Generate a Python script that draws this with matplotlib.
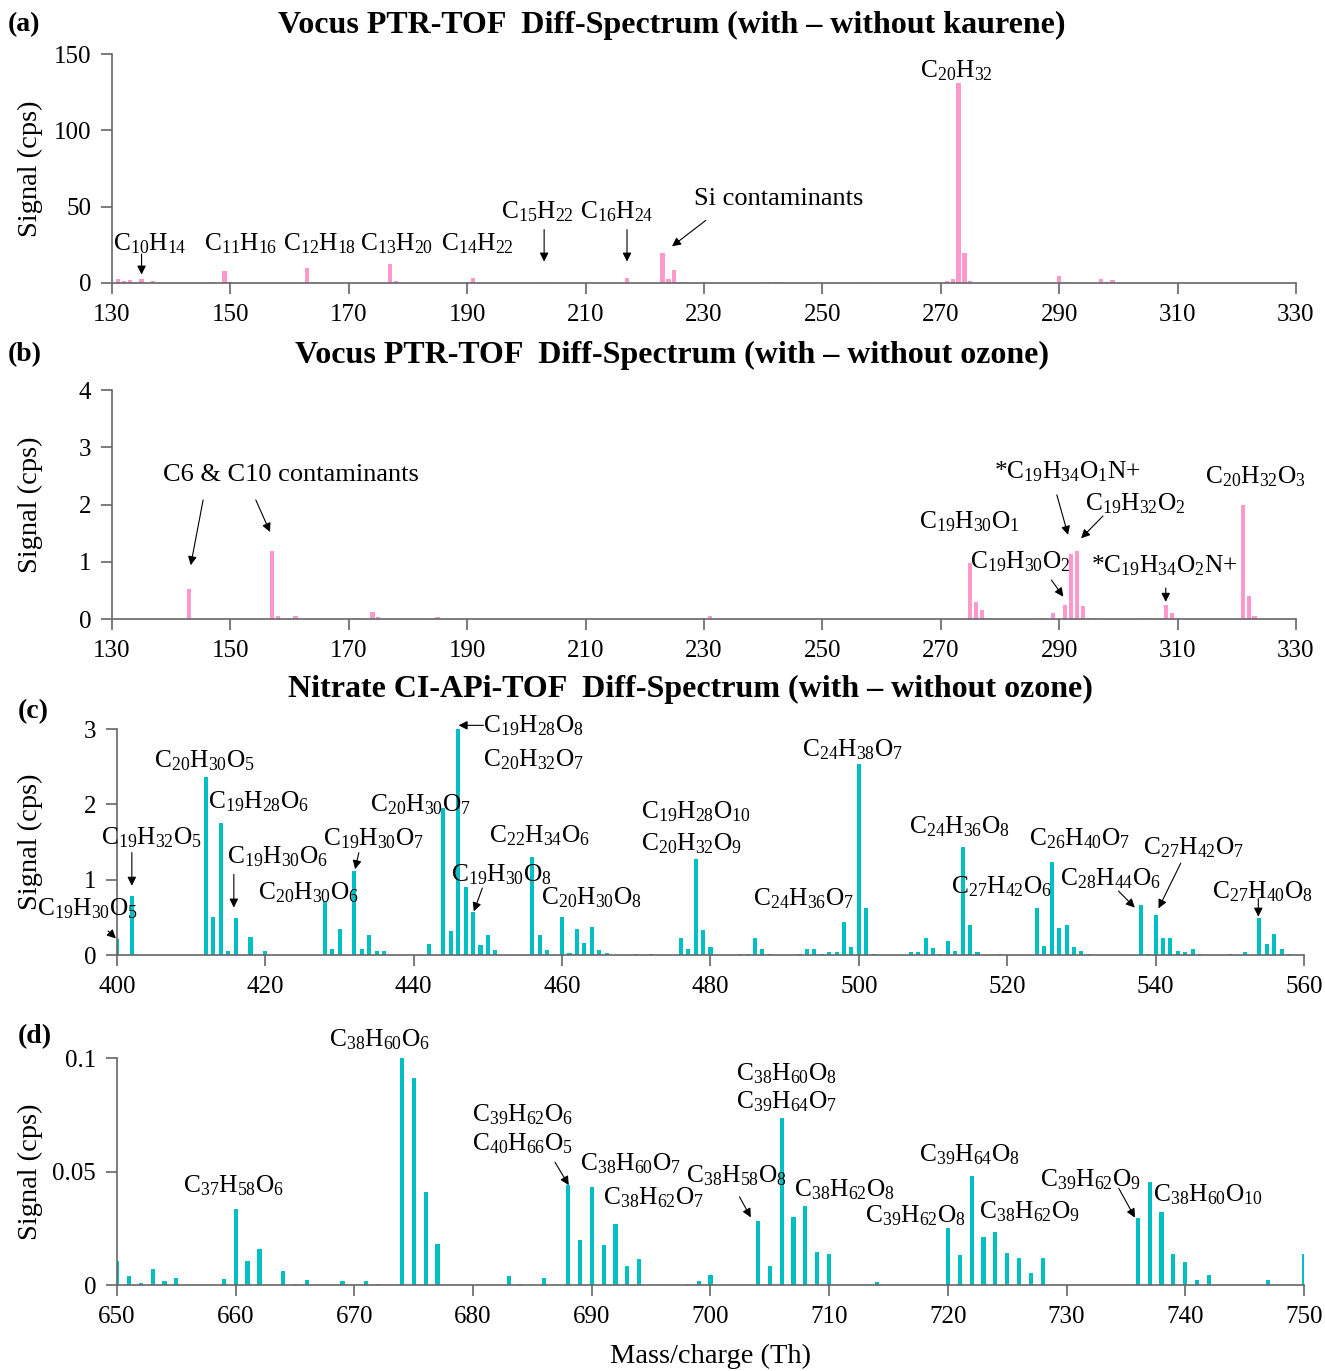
import matplotlib
matplotlib.use('Agg')
import matplotlib.pyplot as plt

plt.rcParams['font.family'] = ['Liberation Serif', 'DejaVu Serif']
plt.rcParams['mathtext.fontset'] = 'custom'
plt.rcParams['mathtext.rm'] = 'Liberation Serif'
plt.rcParams['mathtext.default'] = 'regular'

PINK = '#ff99cc'
CYAN = '#00c0c4'
AXC = '#666666'

# ---- data: unit-mass diff spectra ----
# (a) Vocus, with - without kaurene
mz_a = [131, 132, 133, 134, 135, 137, 145, 146, 147, 149, 150, 162, 163, 164,
        176, 177, 178, 190, 191, 203, 217, 223, 224, 225, 226, 227,
        241, 242, 243, 257, 271, 272, 273, 274, 275, 290, 291, 297, 298, 299]
sig_a = [2.6, 1.3, 2.2, 0.9, 2.8, 1.5, 0.3, 0.3, 0.4, 7.6, 0.4, 0.3, 9.8, 0.7,
         0.3, 12.7, 1.1, 0.4, 3.1, 0.9, 3.1, 19.4, 2.6, 8.5, 0.9, 0.7,
         0.8, 0.8, 0.8, 0.8, 1.3, 2.9, 131, 19.4, 1.1, 4.8, 0.7, 2.9, 0.7, 1.8]

# (b) Vocus, with - without ozone
mz_b = [143, 157, 158, 161, 171, 174, 175, 185, 231, 275, 276, 277, 278, 287,
        289, 291, 292, 293, 294, 295, 296, 304, 305, 307, 308, 309, 310,
        321, 322, 323]
sig_b = [0.52, 1.19, 0.06, 0.05, 0.01, 0.13, 0.03, 0.03, 0.05, 0.97, 0.29, 0.15,
         0.02, 0.02, 0.11, 0.24, 1.13, 1.19, 0.22, 0.02, 0.01, 0.02, 0.02, 0.02,
         0.24, 0.10, 0.02, 2.0, 0.41, 0.05]

# (c) Nitrate CI-APi-TOF, 400-560
mz_c = [400, 402, 412, 413, 414, 415, 416, 418, 420, 428, 429, 430, 432, 433,
        434, 435, 436, 442, 444, 445, 446, 447, 448, 449, 450, 451, 456, 457,
        458, 460, 461, 462, 463, 464, 465, 466, 470, 472, 476, 477, 478, 479,
        480, 484, 485, 486, 487, 488, 492, 493, 494, 495, 496, 497, 498, 499,
        500, 501, 502, 507, 508, 509, 510, 511, 512, 513, 514, 515, 516, 519,
        524, 525, 526, 527, 528, 529, 530, 531, 538, 539, 540, 541, 542, 543,
        544, 545, 546, 550, 552, 554, 555, 556, 557, 558]
sig_c = [0.21, 0.78, 2.36, 0.50, 1.75, 0.05, 0.49, 0.24, 0.05, 0.72, 0.08, 0.35,
         1.11, 0.08, 0.27, 0.05, 0.05, 0.14, 1.95, 0.32, 3.0, 0.91, 0.57, 0.13,
         0.27, 0.07, 1.30, 0.27, 0.07, 0.50, 0.03, 0.35, 0.16, 0.37, 0.07, 0.03,
         0.01, 0.02, 0.23, 0.08, 1.27, 0.33, 0.11, 0.02, 0.01, 0.22, 0.08, 0.01,
         0.01, 0.08, 0.08, 0.02, 0.04, 0.04, 0.44, 0.11, 2.54, 0.63, 0.02, 0.04,
         0.04, 0.23, 0.10, 0.01, 0.19, 0.06, 1.44, 0.40, 0.04, 0.01, 0.63, 0.12,
         1.24, 0.36, 0.40, 0.11, 0.06, 0.02, 0.67, 0.01, 0.53, 0.22, 0.22, 0.05,
         0.04, 0.08, 0.01, 0.01, 0.04, 0.49, 0.15, 0.28, 0.08, 0.01]

# (d) Nitrate CI-APi-TOF, 650-750
mz_d = [650, 651, 652, 653, 654, 655, 659, 660, 661, 662, 664, 665, 666, 669,
        671, 672, 674, 675, 676, 677, 683, 684, 686, 688, 689, 690, 691, 692,
        693, 694, 698, 699, 700, 704, 705, 706, 707, 708, 709, 710, 714, 720,
        721, 722, 723, 724, 725, 726, 727, 728, 736, 737, 738, 739, 740, 741,
        742, 747, 750]
sig_d = [0.0107, 0.0041, 0.0007, 0.0071, 0.0019, 0.0031, 0.0025, 0.0333, 0.0107,
         0.0159, 0.0061, 0.0004, 0.0022, 0.0018, 0.0018, 0.0003, 0.100, 0.0913,
         0.0409, 0.0179, 0.0041, 0.0006, 0.0030, 0.0440, 0.0200, 0.0433, 0.0175,
         0.0270, 0.0083, 0.0116, 0.0003, 0.0017, 0.0044, 0.0283, 0.0085, 0.0734,
         0.0298, 0.0347, 0.0144, 0.0135, 0.0013, 0.0253, 0.0132, 0.0479, 0.0211,
         0.0232, 0.0140, 0.0120, 0.0053, 0.0120, 0.0297, 0.0452, 0.0323, 0.0135,
         0.0100, 0.0022, 0.0044, 0.0021, 0.0138]

# ---- peak labels: (text, x, y) and arrows: (tail, head) ----
labels_a = [(r'C$_{10}$H$_{14}$', 136.4, 26), (r'C$_{11}$H$_{16}$', 151.7, 26),
            (r'C$_{12}$H$_{18}$', 165.0, 26), (r'C$_{13}$H$_{20}$', 178.0, 26),
            (r'C$_{14}$H$_{22}$', 191.8, 26), (r'C$_{15}$H$_{22}$', 201.8, 47),
            (r'C$_{16}$H$_{24}$', 215.3, 47), ('Si contaminants', 242.7, 55),
            (r'C$_{20}$H$_{32}$', 272.6, 139)]
arrows_a = [((135, 19), (135, 5.5)), ((203, 35), (203, 14)), ((217, 35), (217, 14)),
            ((230.3, 41), (224.6, 24))]

labels_b = [('C6 & C10 contaminants', 160.3, 2.52),
            (r'*C$_{19}$H$_{34}$O$_1$N+', 291.3, 2.57),
            (r'C$_{19}$H$_{32}$O$_2$', 302.8, 2.02),
            (r'C$_{19}$H$_{30}$O$_1$', 274.8, 1.70),
            (r'C$_{19}$H$_{30}$O$_2$', 283.5, 1.00),
            (r'*C$_{19}$H$_{34}$O$_2$N+', 307.7, 0.94),
            (r'C$_{20}$H$_{32}$O$_3$', 323.1, 2.49)]
arrows_b = [((145.4, 2.08), (143.3, 0.94)), ((154.3, 2.08), (156.7, 1.52)),
            ((289.6, 2.17), (291.5, 1.47)), ((297.4, 1.80), (293.7, 1.41)),
            ((288.7, 0.68), (290.7, 0.39)), ((308, 0.54), (308, 0.30))]

labels_c = [(r'C$_{19}$H$_{30}$O$_5$', 396.0, 0.61), (r'C$_{19}$H$_{32}$O$_5$', 404.6, 1.56),
            (r'C$_{20}$H$_{30}$O$_5$', 411.8, 2.58), (r'C$_{19}$H$_{28}$O$_6$', 419.1, 2.04),
            (r'C$_{19}$H$_{30}$O$_6$', 421.6, 1.31), (r'C$_{20}$H$_{30}$O$_6$', 425.8, 0.83),
            (r'C$_{19}$H$_{30}$O$_7$', 434.6, 1.54), (r'C$_{20}$H$_{30}$O$_7$', 441.0, 2.00),
            (r'C$_{19}$H$_{28}$O$_8$', 456.2, 3.04), (r'C$_{20}$H$_{32}$O$_7$', 456.2, 2.60),
            (r'C$_{22}$H$_{34}$O$_6$', 457.0, 1.58), (r'C$_{19}$H$_{30}$O$_8$', 451.9, 1.07),
            (r'C$_{20}$H$_{30}$O$_8$', 464.0, 0.76), (r'C$_{19}$H$_{28}$O$_{10}$', 478.0, 1.90),
            (r'C$_{20}$H$_{32}$O$_9$', 477.5, 1.48), (r'C$_{24}$H$_{38}$O$_7$', 499.2, 2.72),
            (r'C$_{24}$H$_{36}$O$_7$', 492.5, 0.75), (r'C$_{24}$H$_{36}$O$_8$', 513.6, 1.70),
            (r'C$_{27}$H$_{42}$O$_6$', 519.2, 0.91), (r'C$_{26}$H$_{40}$O$_7$', 529.8, 1.55),
            (r'C$_{28}$H$_{44}$O$_6$', 533.9, 1.02), (r'C$_{27}$H$_{42}$O$_7$', 545.2, 1.42),
            (r'C$_{27}$H$_{40}$O$_8$', 554.4, 0.84)]
arrows_c = [((398.8, 0.32), (399.85, 0.22)), ((402, 1.36), (402, 0.92)),
            ((415.75, 1.07), (415.75, 0.63)), ((432.6, 1.36), (432.1, 1.14)),
            ((449.4, 3.05), (446.05, 3.05)), ((449.25, 0.89), (448.1, 0.58)),
            ((535, 0.85), (537.2, 0.63)), ((543.4, 1.22), (540.4, 0.62)),
            ((553.85, 0.75), (553.85, 0.51))]

labels_d = [(r'C$_{37}$H$_{58}$O$_6$', 659.8, 0.0437), (r'C$_{38}$H$_{60}$O$_6$', 672.1, 0.108),
            (r'C$_{39}$H$_{62}$O$_6$', 684.2, 0.0751), (r'C$_{40}$H$_{66}$O$_5$', 684.2, 0.0622),
            (r'C$_{38}$H$_{60}$O$_7$', 693.3, 0.0533), (r'C$_{38}$H$_{62}$O$_7$', 695.2, 0.0383),
            (r'C$_{38}$H$_{60}$O$_8$', 706.4, 0.0932), (r'C$_{39}$H$_{64}$O$_7$', 706.4, 0.0808),
            (r'C$_{38}$H$_{58}$O$_8$', 702.2, 0.0480), (r'C$_{38}$H$_{62}$O$_8$', 711.3, 0.0418),
            (r'C$_{39}$H$_{64}$O$_8$', 721.8, 0.0573), (r'C$_{39}$H$_{62}$O$_8$', 717.3, 0.0305),
            (r'C$_{38}$H$_{62}$O$_9$', 726.9, 0.0323), (r'C$_{39}$H$_{62}$O$_9$', 732.0, 0.0463),
            (r'C$_{38}$H$_{60}$O$_{10}$', 741.9, 0.0396)]
arrows_d = [((686.9, 0.0541), (688.06, 0.0440)), ((702.44, 0.0389), (703.4, 0.0298)),
            ((734.4, 0.0426), (735.76, 0.0297))]


def draw_panel(rect, mz, sig, color, width, xlim, xticks, ylim, yticks, yticklabels,
               labels, arrows):
    ax = fig.add_axes(rect)
    ax.bar(mz, sig, width=width, color=color, linewidth=0)
    ax.set_xlim(*xlim)
    ax.set_ylim(*ylim)
    ax.set_xticks(xticks)
    ax.set_yticks(yticks)
    ax.set_yticklabels(yticklabels)
    for s in ['top', 'right']:
        ax.spines[s].set_visible(False)
    for s in ['left', 'bottom']:
        ax.spines[s].set_color(AXC)
        ax.spines[s].set_linewidth(1.2)
    ax.tick_params(direction='out', length=8, width=1.2, color=AXC, labelsize=18, pad=7)
    for txt, x, y in labels:
        # formulas use mathtext subscripts, which come out a bit wide
        fs = 18.3 if '$' in txt else 19
        ax.text(x, y, txt, fontsize=fs, ha='center', va='center')
    for tail, head in arrows:
        ax.annotate('', xy=head, xytext=tail, annotation_clip=False,
                    arrowprops=dict(arrowstyle='-|>', color='k', lw=0.8,
                                    mutation_scale=13, shrinkA=0, shrinkB=0))
    y_mid = rect[1] + rect[3] / 2
    fig.text(30 / 1325, y_mid, 'Signal (cps)', fontsize=20.5, rotation=90,
             ha='center', va='center')
    return ax


fig = plt.figure(figsize=(13.25, 13.71), dpi=100)

draw_panel([0.0845, 0.7936, 0.8936, 0.1670], mz_a, sig_a, PINK, 0.7,
           (130, 330), range(130, 331, 20), (0, 150), [0, 50, 100, 150],
           ['0', '50', '100', '150'], labels_a, arrows_a)
draw_panel([0.0845, 0.5485, 0.8936, 0.1670], mz_b, sig_b, PINK, 0.7,
           (130, 330), range(130, 331, 20), (0, 4), [0, 1, 2, 3, 4],
           ['0', '1', '2', '3', '4'], labels_b, arrows_b)
draw_panel([0.0883, 0.3034, 0.8958, 0.1648], mz_c, sig_c, CYAN, 0.55,
           (400, 560), range(400, 561, 20), (0, 3), [0, 1, 2, 3],
           ['0', '1', '2', '3'], labels_c, arrows_c)
draw_panel([0.0883, 0.0627, 0.8958, 0.1656], mz_d, sig_d, CYAN, 0.35,
           (650, 750), range(650, 751, 10), (0, 0.1), [0, 0.05, 0.1],
           ['0', '0.05', '0.1'], labels_d, arrows_d)

fig.text(672 / 1325, 1 - 25 / 1371, 'Vocus PTR-TOF  Diff-Spectrum (with \u2013 without kaurene)',
         fontsize=23, fontweight='bold', ha='center', va='center')
fig.text(672 / 1325, 1 - 355 / 1371, 'Vocus PTR-TOF  Diff-Spectrum (with \u2013 without ozone)',
         fontsize=23, fontweight='bold', ha='center', va='center')
fig.text(690 / 1325, 1 - 689 / 1371, 'Nitrate CI-APi-TOF  Diff-Spectrum (with \u2013 without ozone)',
         fontsize=23, fontweight='bold', ha='center', va='center')

for lab, x, y in [('(a)', 8, 25), ('(b)', 8, 355), ('(c)', 18, 712), ('(d)', 18, 1037)]:
    fig.text(x / 1325, 1 - y / 1371, lab, fontsize=20, fontweight='bold', ha='left', va='center')

fig.text(710 / 1325, 1 - 1356 / 1371, 'Mass/charge (Th)', fontsize=20.5, ha='center', va='center')

fig.savefig('out.png', dpi=100)
